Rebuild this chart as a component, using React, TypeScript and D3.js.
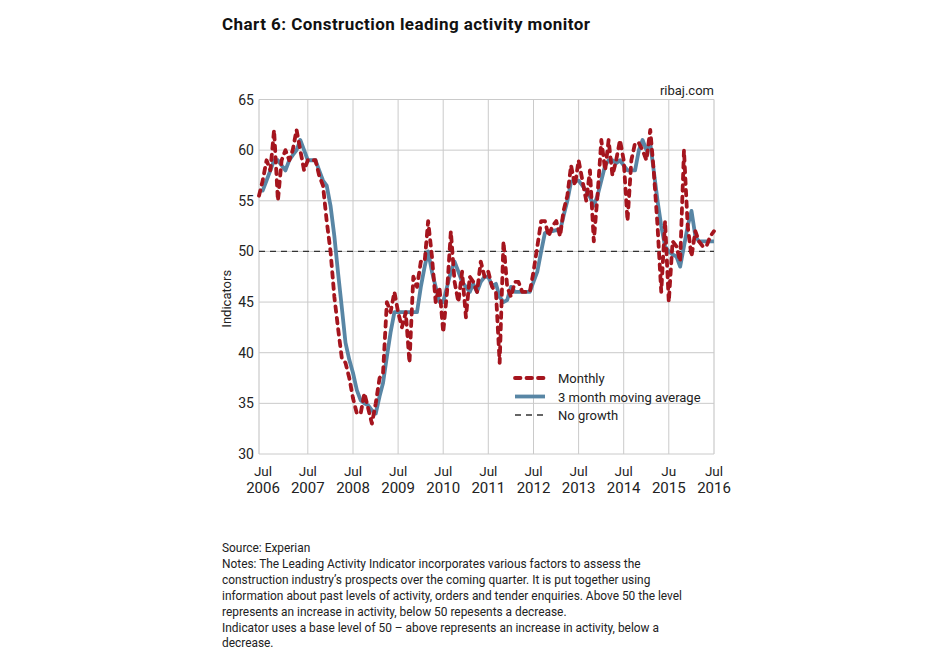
import * as d3 from 'd3';

// Monthly Leading Activity Indicator, Jun 2006 .. Jul 2016
const monthly = [
  55.5, 57, 59, 58, 62, 55, 59, 60, 59, 60, 62, 60, 58, 59, 59, 59, 57.5, 56.5, 53, 50,
  45.5, 42.5, 39.5, 39, 37.5, 35.5, 34, 34, 36, 34.5, 33, 35, 37.5, 38, 45, 44, 46, 44, 42.5, 44,
  39, 47.5, 46.5, 49, 49, 53, 49.5, 45, 46.5, 42, 46, 52, 47, 45, 48, 43.5, 47.5, 47, 46, 49,
  47.5, 48, 46.5, 46, 39, 51, 46.5, 45.5, 47, 47, 46, 46, 46, 48, 50.5, 53, 53, 51.5, 52.5, 53,
  51.5, 54, 55.5, 58.5, 56.5, 59, 57, 55, 58, 51, 55.5, 61, 58, 61, 57.5, 59, 61, 59, 53, 59,
  60.7, 60.7, 60, 59, 62, 58, 52.5, 46, 53, 45, 51, 50.5, 49, 60, 52.5, 49.5, 52, 51, 50.5, 50.5,
  51.5, 52,
];

// 3 month moving average as plotted
const movingAvg = [
  56, 56, 57, 58, 59, 59, 58.5, 58, 59, 59.5, 60, 61, 60, 59, 59, 59, 58, 57, 56.5, 54.5,
  51.5, 48, 44.5, 41, 39.3, 38, 36.3, 35.3, 35, 34.8, 34.3, 34, 35.7, 37, 39.6, 42, 44, 44, 44, 44,
  44, 44, 44, 46.5, 48.5, 50, 48, 46.5, 45, 45, 46.5, 48, 49, 48, 47, 46.5, 46, 46.8, 46, 47,
  47.5, 47.5, 46.6, 46.8, 45.5, 45, 45.2, 46.5, 46, 46, 46, 46, 46, 47, 48, 50, 51.8, 52, 52, 52.1,
  52, 53.5, 55, 56.9, 57, 57, 56.5, 56, 55.4, 54.5, 55.5, 57, 58.5, 59, 59, 58.7, 59, 58.5, 58, 58,
  58, 60, 61, 60, 60.7, 58, 55, 52.5, 50.5, 50, 49.7, 49.5, 48.5, 50.5, 52.5, 54, 51.5, 51, 51, 51,
  51, 51,
];

const startMonth = new Date(2006, 5, 1);
const yTicks = [30, 35, 40, 45, 50, 55, 60, 65];
const xTickMonths = ['Jul', 'Jul', 'Jul', 'Jul', 'Jul', 'Jul', 'Jul', 'Jul', 'Jul', 'Ju', 'Jul'];
const xTickYears = ['2006', '2007', '2008', '2009', '2010', '2011', '2012', '2013', '2014', '2015', '2016'];
const baseline = 50;

const title = 'Chart 6: Construction leading activity monitor';
const notes = [
  'Source: Experian',
  'Notes: The Leading Activity Indicator incorporates various factors to assess the',
  'construction industry\u2019s prospects over the coming quarter. It is put together using',
  'information about past levels of activity, orders and tender enquiries. Above 50 the level',
  'represents an increase in activity, below 50 repesents a decrease.',
  'Indicator uses a base level of 50 \u2013 above represents an increase in activity, below a',
  'decrease.',
];

const RED = '#a5151e';
const BLUE = '#5886a5';
const GRID = '#cacaca';
const FONT = 'Roboto, sans-serif';

export default function App() {
  const width = 936;
  const height = 668;
  const left = 259;
  const right = 714;
  const top = 99.5;
  const bottom = 454;

  const dates = monthly.map((_, i) => d3.timeMonth.offset(startMonth, i));
  const x = d3.scaleTime()
    .domain([dates[0], dates[dates.length - 1]])
    .range([left, right]);
  const y = d3.scaleLinear().domain([30, 65]).range([bottom, top]);

  const julys = xTickYears.map(yr => new Date(+yr, 6, 1));

  const line = d3.line<number>()
    .x((_, i) => x(dates[i]))
    .y(d => y(d))
    .curve(d3.curveLinear);

  const legend = [
    { label: 'Monthly', color: RED, w: 3.8, dash: '5.5 6', cap: 'round' },
    { label: '3 month moving average', color: BLUE, w: 3.8, dash: 'none', cap: 'butt' },
    { label: 'No growth', color: '#333', w: 1.3, dash: '6 5', cap: 'butt' },
  ];

  return (
    <svg
      width={width}
      height={height}
      style={{ position: 'absolute', left: 0, top: 0, background: '#fff' }}
      fontFamily={FONT}
    >
      <text x={222} y={30} fontSize={17} fontWeight={700} fill="#111"
        textLength={368} lengthAdjust="spacing">{title}</text>
      <text x={right} y={95} fontSize={13} textAnchor="end" fill="#222">ribaj.com</text>

      {/* grid */}
      {yTicks.map(t => (
        <line key={'h' + t} x1={left} x2={right} y1={y(t)} y2={y(t)} stroke={GRID} strokeWidth={1} />
      ))}
      {julys.slice(1, -1).map((d, i) => (
        <line key={'v' + i} x1={x(d)} x2={x(d)} y1={top} y2={bottom} stroke={GRID} strokeWidth={1} />
      ))}
      <line x1={left} x2={left} y1={top} y2={bottom} stroke={GRID} strokeWidth={1.2} />
      <line x1={right} x2={right} y1={top} y2={bottom} stroke={GRID} strokeWidth={1.2} />

      {/* y ticks */}
      {yTicks.map(t => (
        <text key={'yt' + t} x={254} y={y(t) + 5} fontSize={14} textAnchor="end" fill="#222">{t}</text>
      ))}
      <text transform={`translate(231,${(top + bottom) / 2 + 22}) rotate(-90)`} fontSize={13}
        textAnchor="middle" fill="#222">Indicators</text>

      {/* x ticks */}
      {julys.map((d, i) => (
        <g key={'xt' + i} transform={`translate(${Math.min(Math.max(x(d), 263), right)},0)`}>
          <text y={476} fontSize={13.5} textAnchor="middle" fill="#222">{xTickMonths[i]}</text>
          <text y={493} fontSize={15} textAnchor="middle" fill="#222">{xTickYears[i]}</text>
        </g>
      ))}

      {/* no growth */}
      <line x1={left} x2={right} y1={y(baseline)} y2={y(baseline)} stroke="#333" strokeWidth={1.3}
        strokeDasharray="6 5" />

      <path d={line(movingAvg) ?? ''} fill="none" stroke={BLUE} strokeWidth={3.8} strokeLinejoin="round" />
      <path d={line(monthly) ?? ''} fill="none" stroke={RED} strokeWidth={3.8} strokeLinecap="round"
        strokeLinejoin="round" strokeDasharray="5.5 6" />

      {/* legend */}
      {legend.map((l, i) => (
        <g key={l.label} transform={`translate(515,${378 + i * 18.5})`}>
          <line x1={0} x2={30} y1={0} y2={0} stroke={l.color} strokeWidth={l.w}
            strokeDasharray={l.dash} strokeLinecap={l.cap as 'round' | 'butt'} />
          <text x={43} y={5} fontSize={13} fill="#222">{l.label}</text>
        </g>
      ))}

      {/* notes */}
      {notes.map((t, i) => (
        <text key={'n' + i} x={222} y={552 + i * 15.9} fontSize={11.9} fill="#222">{t}</text>
      ))}
    </svg>
  );
}
